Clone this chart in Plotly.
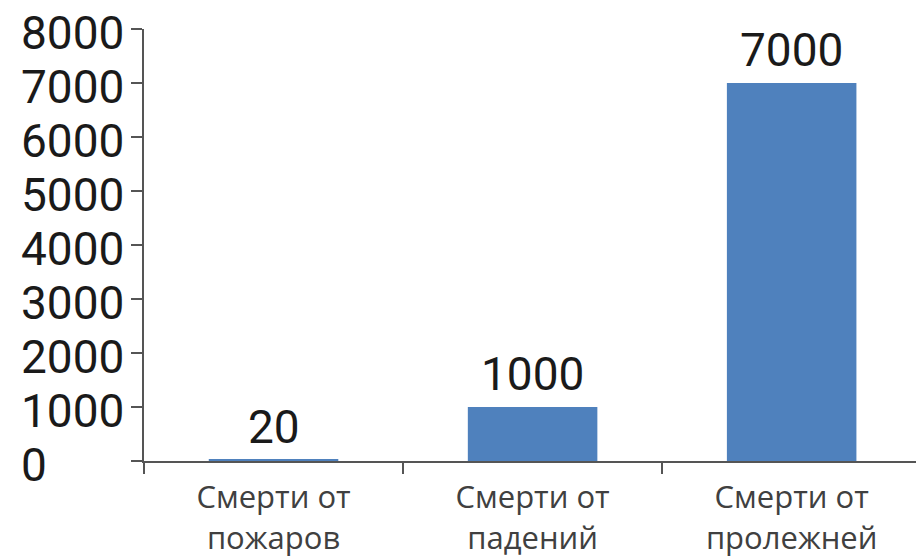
import plotly.graph_objects as go

# Chart data
categories = ["Смерти от<br>пожаров", "Смерти от<br>падений", "Смерти от<br>пролежней"]
deaths = [20, 1000, 7000]
y_ticks = [0, 1000, 2000, 3000, 4000, 5000, 6000, 7000, 8000]

W, H = 916, 558
M_L, M_R, M_T, M_B = 144, 0, 29, 97
plot_w = W - M_L - M_R

BAR_BLUE = "#4F81BD"
AXIS_GREY = "#555555"
LABEL_FONT = "Open Sans"
NUM_FONT = "Roboto"

fig = go.Figure()
fig.add_trace(go.Bar(
    x=categories,
    y=deaths,
    width=0.5,
    marker=dict(color=BAR_BLUE, line=dict(width=0)),
    hoverinfo="skip",
))

annotations = []
# value labels above each bar
for cat, v in zip(categories, deaths):
    annotations.append(dict(
        x=cat, y=v, xref="x", yref="y",
        text=str(v), showarrow=False,
        xanchor="center", yanchor="bottom", yshift=4,
        font=dict(family=NUM_FONT, size=46, color="#1a1a1a"),
    ))
# left-aligned y tick labels
for t in y_ticks:
    annotations.append(dict(
        x=(19 - M_L) / plot_w, y=t, xref="paper", yref="y",
        text=str(t), showarrow=False,
        xanchor="left", yanchor="middle", yshift=-4,
        font=dict(family=NUM_FONT, size=46, color="#1a1a1a"),
    ))

fig.update_layout(
    width=W, height=H,
    margin=dict(l=M_L, r=M_R, t=M_T, b=M_B, pad=0),
    paper_bgcolor="white", plot_bgcolor="white",
    showlegend=False,
    bargap=0.5,
    annotations=annotations,
    xaxis=dict(
        type="category",
        range=[-0.5, 2.48],
        showline=True, linecolor=AXIS_GREY, linewidth=2,
        ticks="outside", tickson="boundaries", ticklen=11,
        tickcolor=AXIS_GREY, tickwidth=2,
        showgrid=False, zeroline=False,
        tickfont=dict(family=LABEL_FONT, size=31, color="#404040"),
        ticklabelstandoff=8,
    ),
    yaxis=dict(
        range=[0, 8000],
        tickvals=y_ticks,
        showticklabels=False,
        showline=True, linecolor=AXIS_GREY, linewidth=2,
        ticks="outside", ticklen=11, tickcolor=AXIS_GREY, tickwidth=2,
        showgrid=False, zeroline=False,
    ),
)

fig.write_html("out.html")
